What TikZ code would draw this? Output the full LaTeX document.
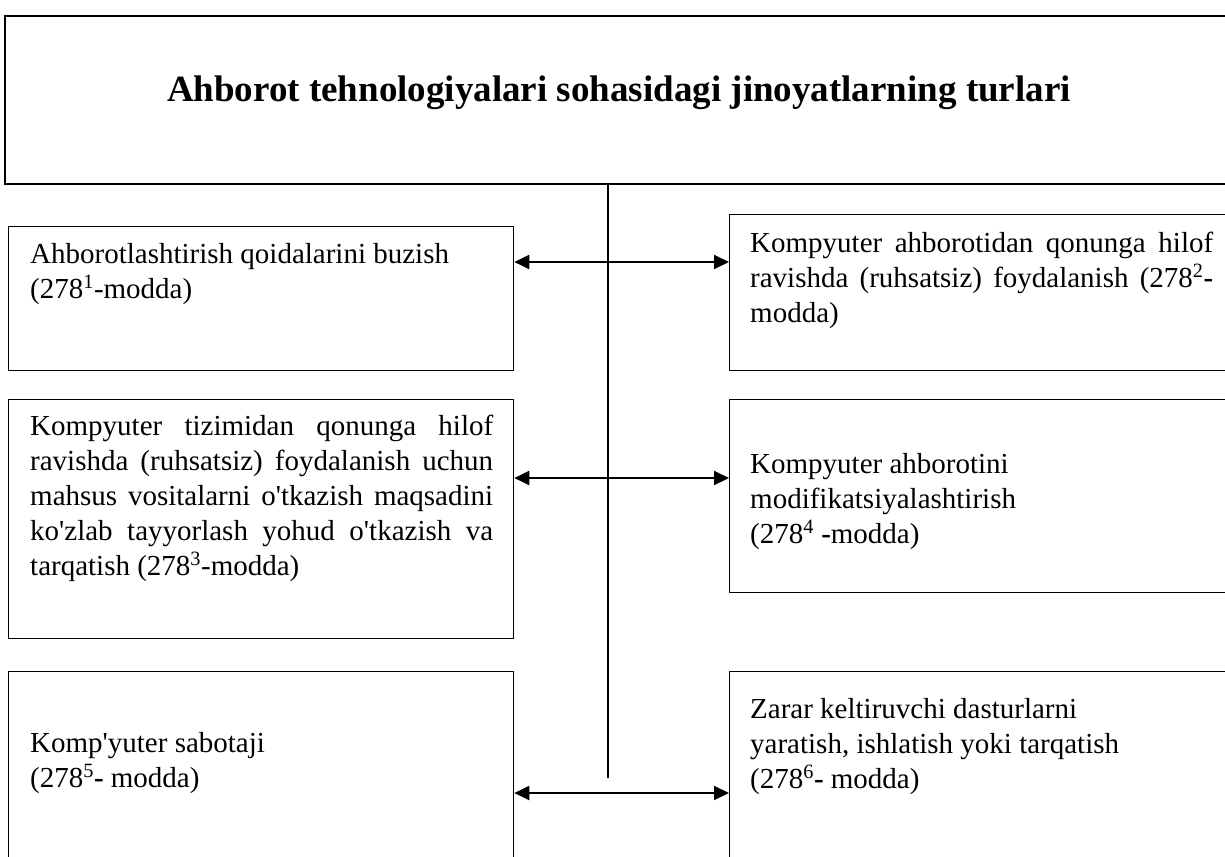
\documentclass[tikz,border=0pt]{standalone}
\usepackage{fontspec}
\setmainfont{Liberation Serif}
\usetikzlibrary{arrows.meta}

\tikzstyle{block}=[draw, rectangle, line width=1.3pt, anchor=north west, inner sep=0pt]
\tikzstyle{header}=[block, line width=1.8pt]
\tikzstyle{txt}=[anchor=base west, inner sep=0pt, text width=463pt, align=justify,
    font=\fontsize{29}{35}\selectfont]
\tikzstyle{link}=[{Triangle[length=15pt,width=14pt]}-{Triangle[length=15pt,width=14pt]}, line width=2pt]
\newcommand{\apos}{\textquotesingle}
\def\boxw{505pt}

\begin{document}
\begin{tikzpicture}[x=1pt,y=-1pt]
	\useasboundingbox (0,0) rectangle (1225,856);
	\clip (0,0) rectangle (1225,856);
	% Define the nodes in the picture
	\node (hdr)[header, minimum width=1240pt, minimum height=168pt] at (4,15) {};
	\node (title)[anchor=base, font=\fontsize{37}{44}\selectfont\bfseries] at (619,102)
	    {Ahborot tehnologiyalari sohasidagi jinoyatlarning turlari};
	\node (l1)[block, minimum width=\boxw, minimum height=144pt] at (8,226) {};
	\node (l2)[block, minimum width=\boxw, minimum height=239pt] at (8,399) {};
	\node (l3)[block, minimum width=\boxw, minimum height=220pt] at (8,671) {};
	\node (r1)[block, minimum width=520pt, minimum height=156pt] at (729,214) {};
	\node (r2)[block, minimum width=520pt, minimum height=193pt] at (729,399) {};
	\node (r3)[block, minimum width=520pt, minimum height=220pt] at (729,671) {};
	\node (t1)[txt] at (30,263) {Ahborotlashtirish qoidalarini buzish\\(278\textsuperscript{1}-modda)};
	\node (t2)[txt] at (750,252) {Kompyuter ahborotidan qonunga hilof\linebreak
	    ravishda (ruhsatsiz) foydalanish (278\textsuperscript{2}\textbf{-}\linebreak modda)};
	\node (t3)[txt] at (30,435) {Kompyuter tizimidan qonunga hilof\linebreak
	    ravishda (ruhsatsiz) foydalanish uchun\linebreak
	    mahsus vositalarni o\apos tkazish maqsadini\linebreak
	    ko\apos zlab tayyorlash yohud o\apos tkazish va\linebreak
	    tarqatish (278\textsuperscript{3}-modda)};
	\node (t4)[txt] at (750,473) {Kompyuter ahborotini\\modifikatsiyalashtirish\\(278\textsuperscript{4} \textbf{-}modda)};
	\node (t5)[txt] at (30,752) {Komp\apos yuter sabotaji\\(278\textsuperscript{5}\textbf{-} modda)};
	\node (t6)[txt] at (750,718) {Zarar keltiruvchi dasturlarni\\yaratish, ishlatish yoki tarqatish\\(278\textsuperscript{6}\textbf{-} modda)};
	\coordinate (spine) at (608,778);
	\coordinate (j1) at (608,262);
	\coordinate (j2) at (608,478);
	\coordinate (j3) at (608,793);

	% Define the edges in the picture
	\draw [line width=1.2pt] (hdr.south -| spine) -- (spine);
	\draw [link] (j1 -| l1.east) -- (j1 -| r1.west);
	\draw [link] (j2 -| l2.east) -- (j2 -| r2.west);
	\draw [link] (j3 -| l3.east) -- (j3 -| r3.west);
\end{tikzpicture}
\end{document}
